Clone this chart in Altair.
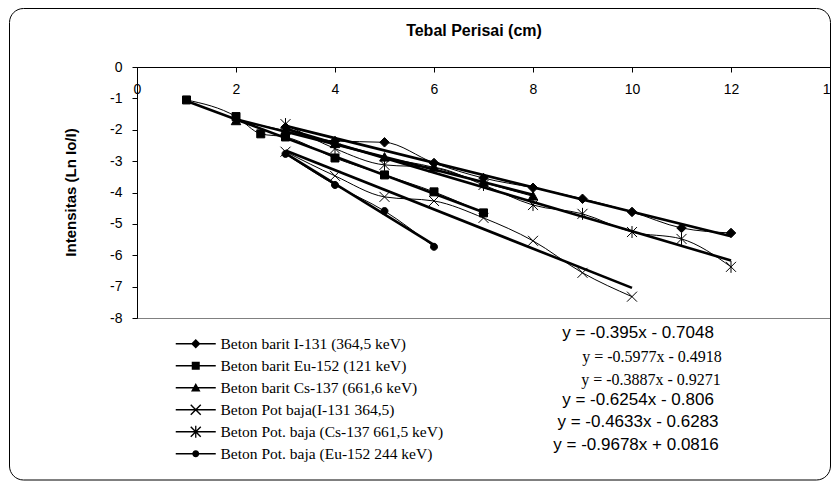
import altair as alt
import pandas as pd

series_names = [
    "Beton barit I-131 (364,5 keV)",
    "Beton barit Eu-152 (121 keV)",
    "Beton barit Cs-137 (661,6 keV)",
    "Beton Pot baja(I-131 364,5)",
    "Beton Pot. baja (Cs-137 661,5 keV)",
    "Beton Pot. baja (Eu-152 244 keV)",
]

x_barit_i131 = [3, 4, 5, 6, 7, 8, 9, 10, 11, 12]
y_barit_i131 = [-1.92, -2.36, -2.40, -3.06, -3.54, -3.85, -4.20, -4.62, -5.13, -5.29]

x_barit_eu152 = [1, 2, 2.5, 3, 4, 5, 6, 7]
y_barit_eu152 = [-1.05, -1.58, -2.13, -2.23, -2.90, -3.44, -3.98, -4.65]

x_barit_cs137 = [2, 3, 4, 5, 6, 7, 8]
y_barit_cs137 = [-1.72, -2.03, -2.45, -2.88, -3.20, -3.68, -4.12]

x_pot_i131 = [3, 4, 5, 6, 7, 8, 9, 10]
y_pot_i131 = [-2.70, -3.47, -4.14, -4.27, -4.81, -5.54, -6.56, -7.32]

x_pot_cs137 = [3, 4, 5, 6, 7, 8, 9, 10, 11, 12]
y_pot_cs137 = [-1.82, -2.60, -3.12, -3.20, -3.76, -4.40, -4.68, -5.26, -5.48, -6.37]

x_pot_eu152 = [3, 4, 5, 6]
y_pot_eu152 = [-2.77, -3.76, -4.59, -5.73]

equations = [
    "y = -0.395x - 0.7048",
    "y = -0.5977x - 0.4918",
    "y = -0.3887x - 0.9271",
    "y = -0.6254x - 0.806",
    "y = -0.4633x - 0.6283",
    "y = -0.9678x + 0.0816",
]

chart_title = "Tebal Perisai (cm)"
y_title = "Intensitas (Ln Io/I)"

x_ticks = [0, 2, 4, 6, 8, 10, 12, 14]
y_ticks = [0, -1, -2, -3, -4, -5, -6, -7, -8]

all_x = [x_barit_i131, x_barit_eu152, x_barit_cs137, x_pot_i131, x_pot_cs137, x_pot_eu152]
all_y = [y_barit_i131, y_barit_eu152, y_barit_cs137, y_pot_i131, y_pot_cs137, y_pot_eu152]

rows = []
for name, xs, ys in zip(series_names, all_x, all_y):
    for xv, yv in zip(xs, ys):
        rows.append({"series": name, "x": xv, "y": yv})
df = pd.DataFrame(rows)

# marker glyphs for the data points (stroked where thin)
marker_paths = [
    "M0,-0.95L0.95,0L0,0.95L-0.95,0Z",
    "M-0.8,-0.8L0.8,-0.8L0.8,0.8L-0.8,0.8Z",
    "M0,-0.95L0.95,0.75L-0.95,0.75Z",
    "M-1,-1L1,1M-1,1L1,-1",
    "M-1,-1L1,1M-1,1L1,-1M0,-1.2L0,1.2",
    "M-0.7,0A0.7,0.7 0 1,1 0.7,0A0.7,0.7 0 1,1 -0.7,0Z",
]

# legend glyphs: filled outlines (line segment + marker), all clockwise
xa = "M-0.9,-1.1L1.1,0.9L0.9,1.1L-1.1,-0.9Z"
xb = "M-0.9,1.1L-1.1,0.9L0.9,-1.1L1.1,-0.9Z"
vbar = "M-0.13,-1.2L0.13,-1.2L0.13,1.2L-0.13,1.2Z"
legend_markers = [
    "M0,-0.95L0.95,0L0,0.95L-0.95,0Z",
    "M-0.8,-0.8L0.8,-0.8L0.8,0.8L-0.8,0.8Z",
    "M0,-0.95L0.95,0.75L-0.95,0.75Z",
    xa + xb,
    xa + xb + vbar,
    "M-0.7,0A0.7,0.7 0 1,1 0.7,0A0.7,0.7 0 1,1 -0.7,0Z",
]
line_seg = "M-4,-0.14L4,-0.14L4,0.14L-4,0.14Z"
legend_paths = [line_seg + p for p in legend_markers]

W, H = 693, 251

xenc = alt.X(
    "x:Q",
    scale=alt.Scale(domain=[0, 14], nice=False, zero=False),
    axis=alt.Axis(
        orient="bottom", offset=-H, values=x_ticks, title=None, tickSize=5,
        labelPadding=10, labelFlush=False, labelOverlap=False,
    ),
)
yenc = alt.Y(
    "y:Q",
    scale=alt.Scale(domain=[-8, 0], nice=False, zero=False),
    axis=alt.Axis(
        values=y_ticks, tickSize=5, labelPadding=10, labelOverlap=False,
        labelExpr="datum.value + ''",
        title=y_title, titleFont="Liberation Sans", titleFontSize=15,
        titleFontWeight="bold", titleColor="black", titleAngle=270,
        titleX=-67, titleY=125, titleAlign="center", titleBaseline="middle",
    ),
)

base = alt.Chart(df)

frame = alt.Chart(pd.DataFrame({"k": [0]})).mark_rect(
    fill="white", fillOpacity=0, stroke="black", strokeWidth=1, cornerRadius=14
).encode(
    x=alt.value(-127.5), x2=alt.value(693.5), y=alt.value(-58.5), y2=alt.value(413)
)

title_layer = alt.Chart(pd.DataFrame({"t": [chart_title]})).mark_text(
    font="Liberation Sans", fontSize=16, fontWeight="bold", color="black",
    align="center", baseline="middle",
).encode(text="t:N", x=alt.value(337), y=alt.value(-36))

thin = base.mark_line(color="black", strokeWidth=1, interpolate="monotone").encode(
    x=xenc, y=yenc, detail="series:N", order="x:Q"
)

trend = base.transform_regression("x", "y", groupby=["series"]).mark_line(
    color="black", strokeWidth=2.6
).encode(x=xenc, y=yenc, detail="series:N")

points = base.mark_point(
    filled=True, fill="black", stroke="black", strokeWidth=1, size=100, opacity=1
).encode(
    x=xenc, y=yenc,
    shape=alt.Shape("series:N", scale=alt.Scale(domain=series_names, range=marker_paths), legend=None),
)

legend_layer = base.mark_point(
    filled=True, fill="black", size=100, opacity=1, clip=True
).encode(
    x=alt.value(0), y=alt.value(5000),
    shape=alt.Shape(
        "series:N",
        scale=alt.Scale(domain=series_names, range=legend_paths),
        legend=alt.Legend(
            title=None, orient="none", legendX=51, legendY=269, padding=0,
            symbolSize=100, symbolFillColor="black", symbolOpacity=1,
            symbolStrokeWidth=0,
            labelFont="Liberation Serif", labelFontSize=15.5, labelColor="black",
            labelOffset=17, rowPadding=5, labelLimit=400,
        ),
    ),
)

eq_pos = [(501, 266, "sans"), (515, 290, "serif"), (514, 313, "serif"),
          (501, 333, "sans"), (501, 355, "sans"), (499, 378, "sans")]
eq_layers = []
for text, (ex, ey, kind) in zip(equations, eq_pos):
    font = "Liberation Sans" if kind == "sans" else "Liberation Serif"
    size = 17 if kind == "sans" else 16
    eq_layers.append(
        alt.Chart(pd.DataFrame({"t": [text]})).mark_text(
            font=font, fontSize=size, color="black", align="center", baseline="middle"
        ).encode(text="t:N", x=alt.value(ex), y=alt.value(ey))
    )

chart = alt.layer(frame, title_layer, thin, trend, points, legend_layer, *eq_layers).resolve_scale(
    shape="independent"
).properties(
    width=W, height=H,
    autosize=alt.AutoSizeParams(type="none"),
    padding={"left": 129, "top": 59, "right": 1, "bottom": 164},
).configure_axis(
    labelFont="Liberation Sans", labelFontSize=14, labelColor="black",
    domainColor="black", tickColor="black", grid=False, domainWidth=1, tickWidth=1,
).configure_view(stroke="#808080", strokeWidth=1)

chart.save("out.html", embed_options={"renderer": "svg", "actions": False})
